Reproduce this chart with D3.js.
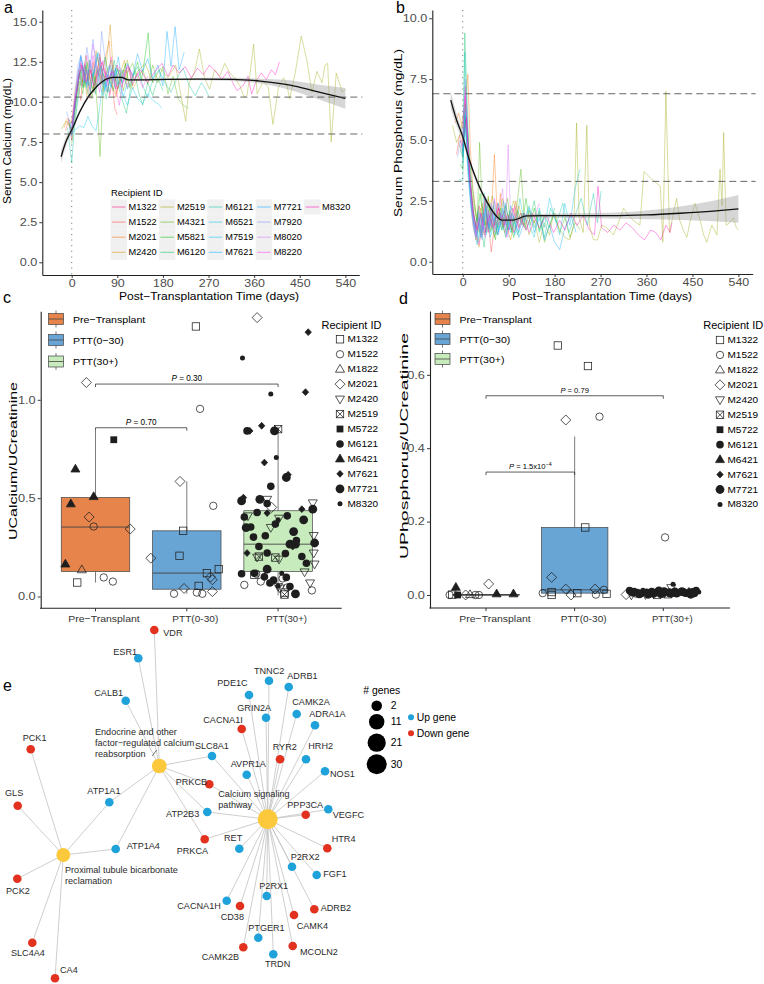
<!DOCTYPE html>
<html><head><meta charset="utf-8">
<script src="https://cdn.jsdelivr.net/npm/d3@7"></script>
<style>body{margin:0;background:#fff}svg{display:block}</style>
</head><body><svg id="fig" width="764" height="984"></svg>
<script>
// ---------------- DATA ----------------
const recipientsAB = ["M1322","M1522","M2021","M2420","M2519","M4321","M5821","M6120","M6121","M6521","M7519","M7621","M7721","M7920","M8020","M8220","M8320"];
const dayTicks = [0,90,180,270,360,450,540];
const caTicks = [0,2.5,5,7.5,10,12.5,15];
const phTicks = [0,2.5,5,7.5,10];
const caRefLines = [8.0,10.3];
const phRefLines = [3.3,6.9];

// serum calcium, [day, mg/dL]
const ca_M1322 = [[-5,8.6],[0,8.0],[5,9.2],[10,10.5],[15,11.8],[20,11.0],[26,12.4],[32,11.3],[38,12.0],[44,10.6],[50,11.9],[56,12.8],[62,11.1],[68,11.9],[75,10.4],[82,11.6],[90,12.3],[98,10.9],[106,11.7],[114,12.1],[120,11.0]];
const ca_M1522 = [[-12,8.2],[-6,8.9],[0,7.6],[6,9.8],[12,11.2],[18,10.1],[24,12.0],[30,11.4],[36,10.2],[42,12.5],[48,11.0],[55,13.0],[62,11.6],[70,10.6],[78,11.8],[85,9.6],[90,9.2]];
const ca_M2021 = [[-15,8.4],[-8,9.0],[0,8.7],[7,10.8],[14,12.0],[21,11.2],[28,12.9],[35,11.5],[42,10.8],[50,12.2],[58,11.4],[66,12.7],[74,13.8],[80,11.0],[88,10.3],[96,11.7],[104,12.0],[110,10.9]];
const ca_M2420 = [[-8,8.8],[0,8.2],[6,9.6],[12,10.9],[18,12.4],[24,11.6],[30,10.4],[36,12.1],[42,11.3],[48,13.2],[55,12.0],[62,10.6],[70,12.9],[76,14.8],[82,11.9],[88,10.5],[96,11.8],[104,12.6],[112,11.2],[120,10.8],[132,11.5]];
const ca_M2519 = [[-20,8.3],[-12,8.8],[-4,8.5],[2,9.0],[8,10.2],[14,11.5],[21,12.2],[28,11.0],[35,12.6],[42,11.4],[50,12.8],[58,12.0],[66,11.5],[74,11.2],[82,12.3],[90,10.8],[100,11.8],[110,12.6],[120,11.0],[130,11.9],[145,12.4],[160,11.2],[175,12.1],[190,11.5],[205,12.3],[215,10.5],[225,8.8],[232,11.2],[242,11.8],[252,13.3],[262,11.5],[272,10.8],[282,12.0],[292,11.6],[302,12.4],[312,11.8],[322,11.5],[332,11.0],[340,10.3],[346,10.4],[352,11.8],[359,13.6],[366,10.5],[378,11.3],[388,10.9],[397,8.6],[408,10.9],[418,11.5],[425,11.0],[430,10.2],[441,11.8],[453,14.1],[464,12.6],[474,10.6],[484,11.9],[494,11.2],[500,12.3],[505,12.4],[512,7.5],[518,10.0],[522,11.8],[528,11.2],[534,10.6],[540,10.8]];
const ca_M4321 = [[0,7.4],[5,8.6],[10,9.9],[16,11.3],[22,10.5],[28,12.2],[34,11.0],[40,10.2],[46,11.6],[52,9.0],[56,6.6],[62,10.8],[70,11.9],[78,12.6],[86,11.3],[94,12.0],[102,10.7],[110,11.8],[120,12.4],[130,11.5],[140,12.0],[150,11.1],[160,12.3],[170,11.2],[180,12.2],[190,10.5],[200,11.6],[210,10.2],[220,9.8],[230,9.6]];
const ca_M5821 = [[-5,8.7],[0,8.1],[6,9.5],[12,11.1],[18,12.0],[24,10.9],[30,12.5],[36,11.4],[42,10.6],[50,12.0],[58,11.2],[66,12.8],[74,11.5],[82,10.7],[90,12.1],[98,11.3],[106,12.4],[114,10.9],[122,11.7],[130,12.5],[138,11.4],[145,12.9],[151,14.3],[156,12.0],[160,11.2]];
const ca_M6120 = [[0,7.8],[5,9.1],[10,10.6],[16,11.8],[22,10.9],[28,12.3],[34,11.0],[40,11.8],[47,10.5],[54,12.1],[60,11.4],[68,10.2],[76,11.5],[84,12.6],[92,11.0],[100,10.1],[108,9.3],[116,10.8],[124,11.9],[132,10.6],[140,9.8],[150,11.2],[160,10.4],[170,11.5],[180,10.7]];
const ca_M6121 = [[-8,8.4],[0,6.2],[5,8.2],[10,9.6],[16,10.9],[22,12.1],[28,11.0],[35,10.3],[42,11.7],[50,10.9],[58,12.2],[66,11.3],[74,10.6],[82,11.9],[90,11.1],[100,12.0],[110,10.8],[120,11.6],[130,12.2],[140,11.0],[150,10.3],[160,11.4],[172,12.0],[184,11.2],[196,10.6],[208,11.5],[220,12.1],[232,11.0],[244,10.4],[256,11.2],[264,10.8],[271,10.3]];
const ca_M6521 = [[0,8.0],[8,8.3],[16,8.5],[24,8.4],[32,9.1],[40,8.5],[48,8.2],[55,9.6],[62,11.4],[70,10.6],[78,11.8],[86,10.9],[94,11.3],[102,10.4],[110,9.8],[120,10.9],[130,10.2],[140,9.9],[150,10.5],[160,10.1],[170,9.9],[178,9.6]];
const ca_M7519 = [[-5,8.5],[0,7.9],[6,9.4],[12,10.8],[18,12.3],[24,11.2],[30,12.0],[36,10.7],[42,11.5],[48,12.6],[55,11.1],[62,10.4],[70,11.7],[78,10.9],[86,12.1],[94,11.0],[102,10.3],[110,11.2]];
const ca_M7621 = [[-5,8.9],[0,8.3],[6,10.0],[12,11.5],[18,12.8],[24,11.9],[30,10.9],[36,12.4],[42,11.6],[50,13.0],[58,11.8],[66,10.7],[74,12.2],[82,11.4],[90,12.0],[100,11.1]];
const ca_M7721 = [[0,8.1],[6,9.9],[12,11.4],[18,12.9],[24,12.0],[30,11.1],[36,12.6],[44,11.7],[52,13.1],[60,12.0],[68,10.9],[76,12.3],[84,11.5],[92,12.8],[100,11.2],[110,12.4],[120,11.6],[130,13.0],[140,11.9],[150,12.7],[160,11.4],[170,12.3],[180,11.0],[188,14.4],[196,12.2],[204,14.7],[212,12.0],[222,13.1]];
const ca_M7920 = [[-10,9.4],[-5,8.8],[0,8.0],[6,10.4],[12,12.2],[18,12.9],[24,11.8],[30,13.4],[36,12.1],[42,13.9],[48,12.4],[54,11.6],[59,14.4],[66,12.6],[72,11.3],[80,12.0],[90,11.4]];
const ca_M8020 = [[0,7.7],[6,9.6],[12,11.8],[18,12.6],[24,11.4],[30,12.9],[36,11.9],[42,13.6],[48,12.3],[55,11.2],[62,12.6],[70,11.0],[78,11.9],[86,10.8],[94,12.2],[102,11.5],[110,10.9],[120,11.8]];
const ca_M8220 = [[0,8.6],[6,10.2],[12,11.0],[18,12.4],[24,11.3],[30,12.0],[36,10.8],[42,12.9],[48,11.7],[55,10.6],[62,12.1],[70,11.3],[78,12.8],[86,11.0],[94,9.8],[102,11.4],[110,12.3],[120,11.1],[130,11.8],[140,10.9],[150,11.6]];
const ca_M8320 = [[0,8.3],[7,10.1],[14,11.6],[21,12.3],[28,11.2],[36,12.0],[44,11.0],[52,11.8],[60,12.5],[70,11.3],[80,11.9],[90,10.8],[100,11.6],[112,12.2],[124,11.4],[136,12.0],[150,11.2],[164,11.9],[178,12.4],[190,11.6],[200,12.3],[212,11.8],[224,12.2],[236,11.5],[248,12.1],[260,11.7],[272,12.3],[284,11.9],[296,11.4],[308,11.9],[318,11.2],[326,10.7],[338,11.0],[348,11.6],[355,10.5],[364,11.3],[374,11.8],[384,11.4],[394,12.0],[402,11.7],[410,12.5]];
const caSeries = [ca_M1322,ca_M1522,ca_M2021,ca_M2420,ca_M2519,ca_M4321,ca_M5821,ca_M6120,ca_M6121,ca_M6521,ca_M7519,ca_M7621,ca_M7721,ca_M7920,ca_M8020,ca_M8220,ca_M8320];
// loess fit
const caSmoothDay = [-21,-10,0,16,33,49,69,82,98,112,122,188,250,319,372,431,484,540];
const caSmoothVal = [6.58,7.62,8.25,9.39,10.33,10.95,11.43,11.53,11.53,11.37,11.37,11.41,11.42,11.41,11.30,11.05,10.64,10.22];
const caSmoothSE  = [0.40,0.25,0.18,0.12,0.10,0.08,0.08,0.08,0.08,0.07,0.07,0.06,0.07,0.10,0.15,0.30,0.45,0.65];

// serum phosphorus, [day, mg/dL]
const ph_M1322 = [[-5,5.0],[0,4.6],[5,7.2],[10,5.1],[15,3.2],[20,2.1],[26,1.4],[32,2.3],[38,1.6],[44,2.6],[50,1.2],[56,2.0],[62,1.5],[68,2.4],[75,1.7],[82,2.1],[90,1.3],[98,2.2],[106,1.6],[114,2.0],[120,1.4]];
const ph_M1522 = [[-12,4.4],[-6,5.2],[0,4.8],[5,6.8],[10,4.2],[15,2.6],[20,1.5],[26,0.9],[32,1.8],[38,1.1],[44,2.4],[50,1.6],[56,0.4],[62,1.5],[70,2.2],[78,1.4],[85,1.9],[90,1.2]];
const ph_M2021 = [[-15,5.7],[-8,6.1],[0,5.5],[5,6.4],[10,7.7],[15,4.6],[20,3.0],[26,2.0],[32,1.2],[38,2.4],[44,1.5],[50,2.6],[56,1.9],[62,4.4],[68,1.8],[74,2.8],[80,1.4],[88,2.0],[96,1.3],[104,2.5],[110,1.7]];
const ph_M2420 = [[-8,4.9],[0,4.3],[5,6.0],[10,4.8],[15,3.1],[20,2.0],[26,1.0],[32,0.6],[38,1.7],[44,2.5],[50,1.3],[56,2.2],[62,1.0],[70,1.9],[78,2.6],[86,1.4],[94,0.9],[102,1.8],[110,2.3],[120,1.5],[132,1.9]];
const ph_M2519 = [[-20,5.6],[-12,4.9],[-4,5.3],[2,6.2],[8,5.0],[14,3.4],[21,2.4],[28,1.6],[35,2.2],[42,1.1],[50,1.9],[58,2.7],[66,1.5],[74,2.0],[82,1.2],[90,1.8],[100,2.5],[110,1.4],[120,2.0],[130,1.1],[140,1.7],[150,0.8],[160,1.6],[170,1.1],[178,2.0],[188,1.4],[200,1.0],[210,0.9],[218,1.6],[223,5.7],[228,1.8],[236,1.2],[243,5.6],[248,1.5],[256,0.9],[264,0.9],[272,1.5],[282,1.4],[295,1.1],[305,1.6],[315,2.2],[325,1.9],[334,1.7],[347,1.5],[355,3.7],[370,3.4],[387,3.1],[392,0.8],[398,7.0],[405,1.2],[412,1.9],[419,2.6],[425,1.7],[432,1.3],[439,1.0],[447,1.8],[455,2.4],[465,1.7],[472,1.1],[478,0.8],[488,1.5],[498,1.1],[504,3.8],[508,2.3],[511,5.3],[516,1.5],[523,1.6],[530,1.8],[536,1.4],[540,1.3]];
const ph_M4321 = [[0,4.5],[5,5.8],[10,4.4],[16,2.8],[22,1.9],[28,1.2],[33,4.9],[38,2.3],[44,1.5],[50,2.7],[56,1.3],[62,1.8],[68,1.1],[74,2.2],[80,1.6],[88,2.6],[96,1.2],[104,1.9],[114,3.8],[122,1.4],[130,2.1],[140,1.6],[150,2.1],[160,0.8],[170,1.5],[180,2.0],[190,1.2],[200,1.8],[210,1.0],[220,1.6],[230,1.3]];
const ph_M5821 = [[-5,4.0],[0,3.8],[5,6.5],[10,5.2],[16,3.6],[22,2.5],[28,1.7],[34,2.8],[40,1.8],[46,1.2],[52,2.4],[58,1.4],[64,0.9],[70,2.0],[76,1.3],[84,2.3],[92,1.6],[100,1.0],[108,2.1],[116,1.5],[124,2.6],[132,1.5],[140,2.2],[150,1.3],[160,1.9]];
const ph_M6120 = [[0,4.2],[4,9.4],[8,6.9],[12,4.5],[18,2.6],[24,1.6],[30,0.8],[36,1.5],[42,0.6],[48,1.9],[54,1.2],[60,2.3],[68,1.4],[76,1.8],[84,1.0],[92,2.1],[100,1.5],[108,1.1],[116,2.0],[124,1.3],[132,1.8],[140,2.5],[150,1.2],[160,1.9],[170,1.4],[180,2.2]];
const ph_M6121 = [[-8,3.4],[0,3.3],[4,8.6],[8,6.2],[12,3.9],[18,2.3],[24,1.4],[30,2.1],[36,1.0],[42,2.8],[48,1.5],[56,2.2],[64,1.1],[72,1.8],[80,2.5],[88,1.3],[96,2.0],[104,1.4],[112,2.6],[120,1.7],[130,2.3],[140,1.4],[150,2.0],[160,1.0],[172,2.2],[184,1.6],[196,2.4],[208,1.2],[220,1.9],[232,2.6],[244,1.5],[256,2.8],[264,1.6],[271,2.9]];
const ph_M6521 = [[0,4.0],[5,5.5],[10,3.6],[16,2.2],[22,1.3],[28,0.7],[34,1.4],[40,2.0],[46,1.1],[54,1.7],[62,2.5],[70,1.3],[78,1.9],[86,1.1],[94,2.3],[102,1.6],[110,1.2],[120,2.0],[130,1.5],[140,1.0],[150,2.2],[160,1.4],[170,2.6],[180,1.8],[190,1.1],[200,2.4],[210,1.5],[220,3.0],[230,3.8]];
const ph_M7519 = [[-5,4.6],[0,4.3],[5,6.1],[10,4.0],[16,2.4],[22,1.6],[28,1.0],[34,2.0],[40,1.3],[46,2.6],[54,1.5],[62,1.9],[70,1.2],[78,2.2],[86,1.5],[94,1.9],[102,1.1],[110,1.8]];
const ph_M7621 = [[-5,4.8],[0,4.5],[5,6.3],[10,4.3],[16,2.7],[22,1.5],[28,1.1],[34,1.9],[40,1.2],[46,2.3],[54,1.0],[62,1.7],[70,2.4],[78,1.3],[86,1.8],[94,1.2],[100,1.6]];
const ph_M7721 = [[0,4.4],[6,6.0],[12,3.5],[18,2.1],[24,1.2],[30,1.8],[36,1.0],[44,2.2],[52,1.4],[60,2.0],[68,1.1],[76,1.7],[84,2.4],[92,1.3],[100,1.9],[110,1.0],[120,1.6],[130,2.2],[140,1.2],[150,1.8],[160,0.9],[170,1.5],[180,0.8],[190,0.5],[200,1.4],[212,1.9],[222,1.2]];
const ph_M7920 = [[-10,4.3],[-5,5.0],[0,4.7],[5,7.5],[10,5.0],[15,3.0],[20,1.9],[26,1.0],[32,1.6],[38,0.9],[44,2.0],[50,1.3],[56,2.4],[62,1.5],[70,1.1],[78,2.1],[85,1.4],[90,1.0]];
const ph_M8020 = [[0,5.2],[5,7.0],[10,4.6],[15,2.9],[20,1.8],[26,1.1],[32,2.0],[38,1.4],[44,2.7],[50,1.6],[56,2.2],[62,1.2],[70,1.9],[78,3.0],[84,1.5],[89,4.8],[94,1.6],[102,2.0],[110,1.3],[120,1.8]];
const ph_M8220 = [[0,5.6],[5,6.8],[10,4.9],[15,3.2],[20,2.0],[26,1.2],[32,0.7],[38,1.6],[44,1.0],[50,2.1],[56,1.4],[62,2.6],[70,1.5],[78,1.9],[86,1.0],[94,1.7],[102,2.3],[110,1.4],[120,2.0],[130,1.2],[140,1.8],[150,2.4]];
const ph_M8320 = [[0,4.9],[7,5.9],[14,3.4],[21,2.0],[28,1.3],[36,2.0],[44,1.2],[52,1.9],[60,1.4],[70,2.2],[80,1.5],[90,1.9],[100,1.2],[112,1.8],[124,1.3],[136,2.0],[150,1.4],[164,1.9],[178,1.2],[190,1.7],[200,1.3],[212,2.0],[224,1.5],[236,1.9],[248,1.3],[258,1.1],[265,3.1],[272,1.4],[284,1.2],[296,1.5],[308,1.3],[320,1.6],[332,1.4],[344,1.1],[356,0.9],[368,1.3],[378,1.2],[388,0.9],[398,1.5],[406,1.2],[410,1.6]];
const phSeries = [ph_M1322,ph_M1522,ph_M2021,ph_M2420,ph_M2519,ph_M4321,ph_M5821,ph_M6120,ph_M6121,ph_M6521,ph_M7519,ph_M7621,ph_M7721,ph_M7920,ph_M8020,ph_M8220,ph_M8320];
const phSmoothDay = [-23.5,-12,0,11,27,47,67,76,99,125,157,288,360,426,491,540];
const phSmoothVal = [6.64,5.82,5.14,4.31,3.36,2.47,1.85,1.71,1.71,1.88,1.89,1.89,1.92,1.99,2.08,2.17];
const phSmoothSE  = [0.35,0.25,0.18,0.15,0.12,0.10,0.09,0.09,0.09,0.08,0.08,0.12,0.18,0.28,0.42,0.57];

// urine panels
const groupCats = ["Pre−Transplant","PTT(0-30)","PTT(30+)"];
const groupLegend = ["Pre−Transplant","PTT(0−30)","PTT(30+)"];
const shapeRecipients = ["M1322","M1522","M1822","M2021","M2420","M2519","M5722","M6121","M6421","M7621","M7721","M8320"];
const shapeKinds = ["sqOpen","circOpen","triOpen","diaOpen","invTriOpen","sqX","sqFill","circFill","triFill","diaFill","circBig","circSmall"];
// [recipient, ratio, jitter (category units)]
const uca_pre = [["M2021",1.088,-0.10],["M5722",0.797,0.20],["M6421",0.648,-0.22],["M6421",0.471,-0.27],["M6421",0.508,-0.02],["M2021",0.404,-0.07],["M1522",0.356,-0.02],["M2021",0.343,0.38],["M6421",0.165,-0.33],["M1822",0.136,-0.15],["M1322",0.071,-0.20],["M1522",0.097,0.09],["M1522",0.076,0.19]];
const uca_0_30 = [["M1322",1.373,0.10],["M1522",0.954,0.145],["M2021",0.585,-0.074],["M1522",0.461,0.29],["M1322",0.334,-0.04],["M1322",0.207,-0.08],["M2021",0.195,-0.395],["M1322",0.119,0.22],["M1322",0.139,0.35],["M2021",0.099,0.26],["M2021",0.085,0.28],["M1322",0.054,0.13],["M2021",0.041,-0.03],["M1522",0.014,-0.14],["M1522",0.020,0.11],["M1522",0.014,0.17],["M2021",0.025,0.28]];
const uca_30p = [["M2021",1.418,-0.23],["M7621",1.344,0.33],["M8320",1.212,-0.39],["M7621",1.039,0.30],["M8320",1.029,-0.08],["M6121",0.842,-0.34],["M7621",0.842,-0.31],["M7721",0.842,-0.04],["M7621",0.868,-0.18],["M2519",0.851,0.0],["M8320",0.707,-0.02],["M7621",0.681,-0.15],["M7721",0.605,0.09],["M7621",0.619,0.11],["M7621",0.503,-0.38],["M7721",0.486,-0.40],["M7721",0.494,-0.20],["M2420",0.494,-0.12],["M6121",0.473,-0.12],["M2021",0.453,-0.07],["M2420",0.476,0.38],["M7621",0.444,0.26],["M7721",0.444,0.38],["M6121",0.404,-0.37],["M6121",0.427,-0.23],["M2420",0.41,-0.33],["M2420",0.398,0.01],["M7621",0.424,-0.12],["M6121",0.41,0.10],["M2420",0.351,-0.08],["M6121",0.368,-0.03],["M8320",0.39,0.0],["M6121",0.353,-0.30],["M7721",0.33,0.17],["M2420",0.31,0.39],["M6121",0.302,-0.27],["M6121",0.309,-0.14],["M6121",0.285,0.20],["M7721",0.272,0.40],["M7721",0.266,0.13],["M7721",0.266,0.19],["M7621",0.254,0.16],["M6121",0.254,-0.21],["M2420",0.221,0.39],["M7621",0.221,-0.34],["M2420",0.20,-0.23],["M2519",0.203,-0.21],["M2519",0.198,-0.03],["M2420",0.19,0.01],["M6121",0.221,-0.12],["M6121",0.218,0.08],["M6121",0.203,0.26],["M2420",0.165,0.40],["M6121",0.169,0.31],["M7721",0.139,-0.12],["M6121",0.118,-0.26],["M1322",0.110,-0.26],["M6121",0.116,-0.40],["M8320",0.118,0.04],["M2420",0.125,0.29],["M1522",0.116,-0.24],["M6121",0.10,-0.15],["M6121",0.097,0.09],["M1522",0.092,0.05],["M6121",0.083,-0.05],["M1522",0.076,-0.19],["M6121",0.069,-0.09],["M2420",0.069,0.35],["M8320",0.072,-0.07],["M1522",0.059,-0.37],["M2420",0.051,0.0],["M8320",0.053,0.0],["M1522",0.046,0.10],["M1522",0.031,0.37],["M2420",0.043,0.02],["M7721",0.013,0.19],["M2519",0.010,0.07],["M1322",0.020,0.07],["M6121",0.051,0.13],["M7721",0.35,-0.35],["M6121",0.56,-0.08],["M7721",0.39,0.28]];
const ucaQ1 = [0.127,0.037,0.127];
const ucaMed = [0.353,0.119,0.266];
const ucaQ3 = [0.503,0.334,0.436];
const ucaLo = [0.071,0.014,0.005];
const ucaHi = [0.842,0.585,0.864];
const ucaTicks = [0,0.5,1.0];
const ucaCompare = [[0,2,1.08,"0.30",""],[0,1,0.858,"0.70",""]];

const uph_pre = [["M2021",0.030,0.03],["M6421",0.021,-0.34],["M1522",0.0,-0.41],["M5722",0.0,-0.32],["M2021",0.0,-0.23],["M1522",0.0,-0.12],["M1522",0.0,-0.08],["M6421",0.003,0.12],["M6421",0.003,0.31],["M1322",0.001,-0.38],["M1822",0.001,-0.18]];
const uph_0_30 = [["M1322",0.680,-0.19],["M1322",0.624,0.15],["M2021",0.477,-0.10],["M1522",0.486,0.28],["M1322",0.184,0.12],["M2021",0.048,-0.26],["M2021",0.016,-0.10],["M2021",0.016,0.23],["M1522",0.014,0.33],["M1522",0.005,-0.36],["M1322",0.008,-0.26],["M1322",0.0,-0.26],["M2021",0.0,-0.04],["M1322",0.005,0.03],["M1522",0.001,0.24],["M1322",0.003,0.36]];
const uph_30p = [["M1522",0.157,0.02],["M8320",0.029,0.11],["M2420",0.020,0.09],["M6121",0.012,-0.38],["M7721",0.008,-0.33],["M8320",0.010,-0.29],["M6121",0.004,-0.25],["M7621",0.006,-0.21],["M7721",0.002,-0.17],["M6121",0.009,-0.13],["M8320",0.005,-0.09],["M7721",0.011,-0.05],["M6121",0.003,-0.01],["M7621",0.008,0.03],["M7721",0.006,0.07],["M6121",0.010,0.13],["M8320",0.004,0.17],["M7721",0.009,0.21],["M6121",0.005,0.25],["M7621",0.011,0.29],["M7721",0.007,0.33],["M6121",0.012,0.37],["M8320",0.008,0.40],["M2420",0.0,-0.36],["M2420",0.001,-0.20],["M1522",0.003,-0.30],["M2519",0.002,0.05],["M6121",0.006,-0.35],["M7721",0.003,-0.27],["M6121",0.007,-0.19],["M7721",0.004,-0.11],["M6121",0.002,-0.03],["M7721",0.009,0.01],["M6121",0.003,0.09],["M7721",0.005,0.15],["M6121",0.008,0.23],["M7721",0.002,0.31],["M6121",0.004,0.35],["M7621",0.003,-0.15],["M7621",0.009,0.19],["M8320",0.013,-0.23],["M8320",0.001,0.27],["M1322",0.0,-0.07],["M2021",0.001,-0.42]];
const uphQ1 = [0.0,0.005,0.001];
const uphMed = [0.0,0.014,0.005];
const uphQ3 = [0.001,0.184,0.009];
const uphLo = [0.0,0.0,0.0];
const uphHi = [0.003,0.432,0.02];
const uphTicks = [0,0.2,0.4,0.6];
const uphCompare = [[0,2,0.543,"0.79",""],[0,1,0.335,"1.5x10","−4"]];

// network (panel e): layout coordinates
const geneNames = ["VDR","ESR1","CALB1","PCK1","GLS","ATP1A1","ATP1A4","PCK2","SLC4A4","CA4","SLC8A1","PRKCB","ATP2B3","PRKCA","RET","CACNA1I","GRIN2A","PDE1C","TNNC2","ADRB1","CAMK2A","ADRA1A","AVPR1A","RYR2","HRH2","NOS1","PPP3CA","VEGFC","HTR4","P2RX2","FGF1","P2RX1","CACNA1H","CD38","ADRB2","CAMK4","PTGER1","CAMK2B","TRDN","MCOLN2"];
const geneDirection = ["down","up","up","down","down","up","up","down","down","down","up","down","up","down","up","down","up","up","up","up","up","up","up","down","up","up","down","up","down","up","up","up","up","down","down","down","up","down","up","down"];
const geneLayoutX = [154.3,138.3,125.7,30.7,17.7,109.3,115.7,17.3,32.3,55,212,209.3,207.3,204.7,239.3,241.7,266,249,269,288.7,296.7,315,246.7,280,306,325,305.7,328.3,327.3,292,316.7,266.7,226.7,240,314.3,294,258.3,243.3,273.3,292.7];
const geneLayoutY = [630,658.3,700.7,749.3,805.7,802.3,849,878.7,942.7,978.3,756,784.3,812,839.3,848.7,729,717.7,695,680.7,687,714,725.3,774.7,759.3,759.3,771.3,814.7,809.3,848.3,866.7,875,896,900.7,906,909.3,915,937.7,947.3,954.3,946];
const geneLabelX = [163.3,113.3,94.3,22.7,5,87.3,126.7,6,11,60,195,175.7,166,176.7,224,203.3,237.3,217.3,254,287.3,292.3,309.3,230.7,272.7,308.3,330,287.3,332.7,331.7,290.7,323.3,259.3,177.3,220.7,320.7,296.7,248.3,201.7,265,300];
const geneLabelY = [632.7,651.7,693.3,737.7,793.3,791,846,890.7,952.7,970,745.7,781.7,814,850.7,838,720,707.7,683.3,670.7,675.7,701.7,714,764.3,747.3,746,774.3,804.7,814.7,839.3,856.7,874,886,906,917.3,908.3,926,928.3,956.7,964,952.3];
const pathwayLines = [["Endocrine and other","factor−regulated calcium","reabsorption"],["Calcium signaling","pathway"],["Proximal tubule bicarbonate","reclamation"]];
const pathwayLayoutX = [159.3,267.7,63.3];
const pathwayLayoutY = [766,819.3,855];
const pathwayLabelX = [95,218.3,65];
const pathwayLabelY = [731.7,794,870];
const pathwayMembers = [
  ["VDR","ESR1","CALB1","ATP1A1","ATP1A4","SLC8A1","PRKCB","ATP2B3","PRKCA"],
  ["SLC8A1","PRKCB","ATP2B3","PRKCA","RET","CACNA1I","GRIN2A","PDE1C","TNNC2","ADRB1","CAMK2A","ADRA1A","AVPR1A","RYR2","HRH2","NOS1","PPP3CA","VEGFC","HTR4","P2RX2","FGF1","P2RX1","CACNA1H","CD38","ADRB2","CAMK4","PTGER1","CAMK2B","TRDN","MCOLN2"],
  ["PCK1","GLS","PCK2","SLC4A4","CA4","ATP1A1","ATP1A4"]];
const sizeLegendValues = [2,11,21,30];
const directionLegend = ["Up gene","Down gene"];

// ---------------- DRAWING ----------------
const FONT = "'Liberation Sans', Arial, Helvetica, sans-serif";
const svg = d3.select("#fig").attr("font-family", FONT);
const AX = "#222", TICKTXT = "#4d4d4d";

function stretch(sel, k){ sel.each(function(){ const w=this.getComputedTextLength(); this.setAttribute("textLength", w*k); this.setAttribute("lengthAdjust","spacingAndGlyphs"); }); }
function fitLen(sel, L){ sel.attr("textLength", L).attr("lengthAdjust","spacingAndGlyphs"); }
function styleAxis(g, fs, k){
  g.attr("font-family", FONT);
  g.select(".domain").attr("stroke", AX).attr("stroke-width", 1.1);
  g.selectAll(".tick line").attr("stroke", AX).attr("stroke-width", 0.9);
  const t = g.selectAll(".tick text").attr("fill", TICKTXT).attr("font-size", fs);
  if (k) stretch(t, k);
}
function txt(g, s, x, y, fs, opts={}){
  const t = g.append("text").attr("x", x).attr("y", y).attr("font-size", fs).attr("fill", opts.fill||"#000")
    .attr("text-anchor", opts.anchor||"start").attr("dominant-baseline", opts.base||"central").text(s);
  if (opts.k) stretch(t, opts.k);
  return t;
}

// panel letters
[["a",4,13],["b",396,13],["c",3,303],["d",399,304],["e",3,691]].forEach(([s,x,y]) =>
  svg.append("text").attr("x",x).attr("y",y).attr("font-size",16).text(s));

const hueColor = i => d3.hcl(15 + i*360/recipientsAB.length, 100, 65).formatHex();

function linePanel(opt){
  const g = svg.append("g");
  const {x, y, series, sDay, sVal, sSE, refs, ticks} = opt;
  const line = d3.line().x(d=>x(d[0])).y(d=>y(d[1]));
  series.forEach((s,i)=> g.append("path").attr("d", line(s)).attr("fill","none")
     .attr("stroke", hueColor(i)).attr("stroke-width",0.7).attr("stroke-opacity",0.55));
  const sm = sDay.map((d,i)=>({d, v:sVal[i], se:sSE[i]}));
  g.append("path").attr("d", d3.area().curve(d3.curveMonotoneX).x(p=>x(p.d)).y0(p=>y(p.v-p.se)).y1(p=>y(p.v+p.se))(sm))
    .attr("fill","#999").attr("fill-opacity",0.4);
  g.append("path").attr("d", d3.line().curve(d3.curveMonotoneX).x(p=>x(p.d)).y(p=>y(p.v))(sm))
    .attr("fill","none").attr("stroke","#111").attr("stroke-width",1.3);
  refs.forEach(v => g.append("line").attr("x1",x.range()[0]).attr("x2",x.range()[1]+3).attr("y1",y(v)).attr("y2",y(v))
    .attr("stroke","#555").attr("stroke-width",0.9).attr("stroke-dasharray","7,4"));
  g.append("line").attr("x1",x(0)).attr("x2",x(0)).attr("y1",y.range()[1]).attr("y2",y.range()[0])
    .attr("stroke","#777").attr("stroke-width",1.1).attr("stroke-dasharray","1,4.6");
  const gy = g.append("g").attr("transform",`translate(${x.range()[0]},0)`)
    .call(d3.axisLeft(y).tickValues(ticks).tickFormat(d3.format(".1f")).tickSize(3).tickPadding(2).tickSizeOuter(0));
  styleAxis(gy, 10.8, 1.17);
  const gx = g.append("g").attr("transform",`translate(0,${y.range()[0]})`)
    .call(d3.axisBottom(x).tickValues(dayTicks).tickSize(3).tickPadding(1.5).tickSizeOuter(0));
  styleAxis(gx, 10.6, 1.17);
  fitLen(txt(g, "Post−Transplantation Time (days)", opt.xTitleX, 296, 10.8, {anchor:"middle"}), 180);
  const yt = g.append("text").attr("transform",`translate(${opt.yTitleX},${opt.yTitleY}) rotate(-90)`)
    .attr("font-size",11.8).attr("text-anchor","middle").attr("dominant-baseline","central").text(opt.yTitle);
  fitLen(yt, opt.yTitleLen);
  return g;
}

const xA = d3.scaleLinear().domain([-58, 567.5]).range([42.3, 359.3]);
const yA = d3.scaleLinear().domain([-0.79, 15.73]).range([275, 10]);
const gA = linePanel({x:xA, y:yA, series:caSeries, sDay:caSmoothDay, sVal:caSmoothVal, sSE:caSmoothSE, refs:caRefLines, ticks:caTicks,
  xTitleX:209, yTitleX:6.5, yTitleY:141, yTitle:"Serum Calcium (mg/dL)", yTitleLen:126});

const xB = d3.scaleLinear().domain([-59.6, 568]).range([432.3, 752.7]);
const yB = d3.scaleLinear().domain([-0.505, 10.34]).range([274, 10]);
linePanel({x:xB, y:yB, series:phSeries, sDay:phSmoothDay, sVal:phSmoothVal, sSE:phSmoothSE, refs:phRefLines, ticks:phTicks,
  xTitleX:602, yTitleX:397.5, yTitleY:133, yTitle:"Serum Phosphorus (mg/dL)", yTitleLen:168});

// legend of panel a
{
  const lg = gA.append("g");
  txt(lg, "Recipient ID", 111, 193, 8.6, {k:1.1});
  recipientsAB.forEach((r,i)=>{
    const col = Math.floor(i/4), row = i%4;
    const kx = 110.5 + col*48.4, cy = 207 + row*15.1;
    lg.append("rect").attr("x",kx).attr("y",cy-7.55).attr("width",16.5).attr("height",15.1).attr("fill","#F0F0F0");
    lg.append("line").attr("x1",kx+1.5).attr("x2",kx+15).attr("y1",cy).attr("y2",cy)
      .attr("stroke",hueColor(i)).attr("stroke-opacity",0.6).attr("stroke-width",0.9);
    txt(lg, r, kx+18, cy, 8.4, {k:1.1});
  });
}

// ---- shapes ----
function drawShape(g, kind, x, y){
  const s = "#1e1e1e", sw = 0.75;
  const P = (pts, fill) => g.append("path").attr("d","M"+pts.map(p=>p.join(",")).join("L")+"Z")
     .attr("fill",fill).attr("stroke",s).attr("stroke-width",sw).attr("stroke-linejoin","miter");
  switch(kind){
    case "sqOpen": g.append("rect").attr("x",x-3.7).attr("y",y-3.7).attr("width",7.4).attr("height",7.4).attr("fill","none").attr("stroke",s).attr("stroke-width",sw); break;
    case "circOpen": g.append("circle").attr("cx",x).attr("cy",y).attr("r",3.7).attr("fill","none").attr("stroke",s).attr("stroke-width",sw); break;
    case "triOpen": P([[x,y-4.8],[x+4.5,y+3],[x-4.5,y+3]],"none"); break;
    case "diaOpen": P([[x,y-5],[x+5,y],[x,y+5],[x-5,y]],"none"); break;
    case "invTriOpen": P([[x-4.5,y-3],[x+4.5,y-3],[x,y+4.8]],"none"); break;
    case "sqX": g.append("rect").attr("x",x-3.7).attr("y",y-3.7).attr("width",7.4).attr("height",7.4).attr("fill","none").attr("stroke",s).attr("stroke-width",sw);
       g.append("path").attr("d",`M${x-3.7},${y-3.7}L${x+3.7},${y+3.7}M${x+3.7},${y-3.7}L${x-3.7},${y+3.7}`).attr("stroke",s).attr("stroke-width",sw); break;
    case "sqFill": g.append("rect").attr("x",x-3.4).attr("y",y-3.4).attr("width",6.8).attr("height",6.8).attr("fill",s); break;
    case "circFill": g.append("circle").attr("cx",x).attr("cy",y).attr("r",3.8).attr("fill",s); break;
    case "triFill": P([[x,y-4.8],[x+4.5,y+3],[x-4.5,y+3]],s); break;
    case "diaFill": P([[x,y-3.4],[x+3.2,y],[x,y+3.4],[x-3.2,y]],s); break;
    case "circBig": g.append("circle").attr("cx",x).attr("cy",y).attr("r",4.4).attr("fill",s); break;
    case "circSmall": g.append("circle").attr("cx",x).attr("cy",y).attr("r",2.5).attr("fill",s); break;
  }
}
const shapeOf = new Map(shapeRecipients.map((r,i)=>[r, shapeKinds[i]]));
const boxFills = ["#E6844B","#68A4D4","#C7EBBC"];

function boxPanel(opt){
  const g = svg.append("g");
  const {x, y, groups, q1, med, q3, lo, hi, ticks, compare} = opt;
  const step = x.step(), bw = 0.75*step;
  groupCats.forEach((c,i)=>{
    const cx = x(c);
    g.append("line").attr("x1",cx).attr("x2",cx).attr("y1",y(q3[i])).attr("y2",y(hi[i])).attr("stroke","#444").attr("stroke-width",0.7);
    g.append("line").attr("x1",cx).attr("x2",cx).attr("y1",y(q1[i])).attr("y2",y(lo[i])).attr("stroke","#444").attr("stroke-width",0.7);
    g.append("rect").attr("x",cx-bw/2).attr("width",bw).attr("y",y(q3[i])).attr("height",Math.max(0.5,y(q1[i])-y(q3[i])))
      .attr("fill",boxFills[i]).attr("stroke","#444").attr("stroke-width",0.7);
    g.append("line").attr("x1",cx-bw/2).attr("x2",cx+bw/2).attr("y1",y(med[i])).attr("y2",y(med[i])).attr("stroke","#444").attr("stroke-width",0.9);
  });
  groups.forEach((pts,i)=> pts.forEach(([r,v,j]) => drawShape(g, shapeOf.get(r), x(groupCats[i]) + j*step, y(v))));
  // comparisons
  compare.forEach(([a,b,v,lab,sup])=>{
    const x1 = x(groupCats[a]), x2 = x(groupCats[b]), yy = y(v);
    g.append("path").attr("d",`M${x1},${yy+3}L${x1},${yy}L${x2},${yy}L${x2},${yy+3}`).attr("fill","none").attr("stroke","#333").attr("stroke-width",0.8);
    const t = g.append("text").attr("x",(x1+x2)/2).attr("y",yy-3).attr("font-size",opt.pFont).attr("text-anchor","middle");
    t.append("tspan").attr("font-style","italic").text("P");
    t.append("tspan").text(" = " + lab);
    if (sup) t.append("tspan").attr("font-size",opt.pFont*0.7).attr("dy",-3.5).text(sup);
  });
  // axes
  const gy = g.append("g").attr("transform",`translate(${opt.axisX},0)`)
     .call(d3.axisLeft(y).tickValues(ticks).tickFormat(d3.format(".1f")).tickSize(3).tickPadding(2).tickSizeOuter(0));
  styleAxis(gy, 10.5, 1.22);
  const yb = y.range()[0];
  g.append("line").attr("x1",opt.axisX-0.55).attr("x2",opt.axisRight).attr("y1",yb).attr("y2",yb).attr("stroke",AX).attr("stroke-width",1.1);
  groupCats.forEach(c=>{
    g.append("line").attr("x1",x(c)).attr("x2",x(c)).attr("y1",yb).attr("y2",yb+3).attr("stroke",AX).attr("stroke-width",0.9);
    fitLen(txt(g, c, x(c)+opt.labShift, yb+10.5, 9.8, {anchor:"middle", fill:"#333"}), c.length*opt.catCharW);
  });
  const yt = g.append("text").attr("transform",`translate(${opt.yTitleX},${opt.yTitleY}) rotate(-90)`)
    .attr("font-size",11.5).attr("text-anchor","middle").attr("dominant-baseline","central").text(opt.yTitle);
  fitLen(yt, opt.yTitleLen);
  // fill legend
  groupLegend.forEach((s,i)=>{
    const cy = opt.legY[i], kx = opt.legX;
    g.append("line").attr("x1",kx+7.5).attr("x2",kx+7.5).attr("y1",cy-8.5).attr("y2",cy+8.5).attr("stroke","#444").attr("stroke-width",0.7);
    g.append("rect").attr("x",kx).attr("y",cy-5.5).attr("width",15).attr("height",11).attr("fill",boxFills[i]).attr("stroke","#444").attr("stroke-width",0.7);
    g.append("line").attr("x1",kx).attr("x2",kx+15).attr("y1",cy).attr("y2",cy).attr("stroke","#444").attr("stroke-width",0.8);
    txt(g, s, kx+24.5, cy, 9.8, {k:1.08});
  });
  // shape legend
  txt(g, "Recipient ID", opt.shpTitleX, opt.shpTitleY, 10.2, {k:1.08});
  shapeRecipients.forEach((r,i)=>{
    const cy = opt.shpY0 + i*14.95;
    drawShape(g, shapeKinds[i], opt.shpX, cy);
    txt(g, r, opt.shpX+7.5, cy, 9.3, {k:1.08});
  });
  return g;
}

const xC = d3.scalePoint().domain(groupCats).range([95.5, 278.1]);
const yC = d3.scaleLinear().domain([-0.06, 1.45]).range([608.3, 311.3]);
boxPanel({x:xC, y:yC, groups:[uca_pre, uca_0_30, uca_30p], q1:ucaQ1, med:ucaMed, q3:ucaQ3, lo:ucaLo, hi:ucaHi, ticks:ucaTicks, compare:ucaCompare,
  pFont:8.2, axisX:40.7, axisRight:341.7, labShift:8.5, catCharW:5.1, yTitleX:12.5, yTitleY:461, yTitle:"UCalcium/UCreatinine", yTitleLen:158,
  legX:48.5, legY:[319,340,361.5], shpTitleX:321.5, shpTitleY:325, shpX:340, shpY0:339.3});

const xD = d3.scalePoint().domain(groupCats).range([486, 663.3]);
const yD = d3.scaleLinear().domain([-0.0355, 0.774]).range([608, 311]);
boxPanel({x:xD, y:yD, groups:[uph_pre, uph_0_30, uph_30p], q1:uphQ1, med:uphMed, q3:uphQ3, lo:uphLo, hi:uphHi, ticks:uphTicks, compare:uphCompare,
  pFont:7.6, axisX:430, axisRight:730, labShift:9, catCharW:5.1, yTitleX:403.5, yTitleY:446, yTitle:"UPhosphorus/UCreatinine", yTitleLen:226,
  legX:435, legY:[319,339,359], shpTitleX:703.3, shpTitleY:325, shpX:720, shpY0:340});

// ---- panel e: network ----
{
  const g = svg.append("g");
  const ex = d3.scaleLinear().domain([0,380]).range([0,380]);
  const ey = d3.scaleLinear().domain([610,984]).range([610,984]);
  const rScale = d3.scalePow().exponent(0.35).domain([2,30]).range([5.3,10]);
  const dirColor = d => d==="up" ? "#1FA2DA" : "#E2321F";
  const hubColor = "#FCC83C";
  const idx = new Map(geneNames.map((n,i)=>[n,i]));
  pathwayMembers.forEach((mem,p)=> mem.forEach(n=>{
    const i = idx.get(n);
    g.append("line").attr("x1",ex(pathwayLayoutX[p])).attr("y1",ey(pathwayLayoutY[p])).attr("x2",ex(geneLayoutX[i])).attr("y2",ey(geneLayoutY[i]))
      .attr("stroke","#C2C2C2").attr("stroke-width",0.8);
  }));
  g.append("line").attr("x1",ex(152.3)).attr("y1",ey(756)).attr("x2",ex(156.7)).attr("y2",ey(750)).attr("stroke","#333").attr("stroke-width",0.7);
  geneNames.forEach((n,i)=> g.append("circle").attr("cx",ex(geneLayoutX[i])).attr("cy",ey(geneLayoutY[i])).attr("r",4.3).attr("fill",dirColor(geneDirection[i])));
  pathwayMembers.forEach((mem,p)=> g.append("circle").attr("cx",ex(pathwayLayoutX[p])).attr("cy",ey(pathwayLayoutY[p])).attr("r",rScale(mem.length)).attr("fill",hubColor));
  geneNames.forEach((n,i)=> txt(g, n, ex(geneLabelX[i]), ey(geneLabelY[i]), 9.1, {fill:"#2a2a2a"}));
  pathwayLines.forEach((lines,p)=> lines.forEach((s,k)=> txt(g, s, ex(pathwayLabelX[p]), ey(pathwayLabelY[p]) + k*11.1, 9.1, {fill:"#2a2a2a"})));
  txt(g, "# genes", 363.3, 690, 10.4);
  const ly = [705.7,721.7,742.7,764.3];
  sizeLegendValues.forEach((v,k)=>{
    g.append("circle").attr("cx",376.7).attr("cy",ly[k]).attr("r",rScale(v)).attr("fill","#000");
    txt(g, String(v), 390.7, ly[k], 10.4);
  });
  directionLegend.forEach((s,k)=>{
    const cy = 717.3 + k*16;
    g.append("circle").attr("cx",411).attr("cy",cy).attr("r",3).attr("fill", k===0 ? dirColor("up") : dirColor("down"));
    txt(g, s, 416.7, cy, 10.4);
  });
}
</script></body></html>
